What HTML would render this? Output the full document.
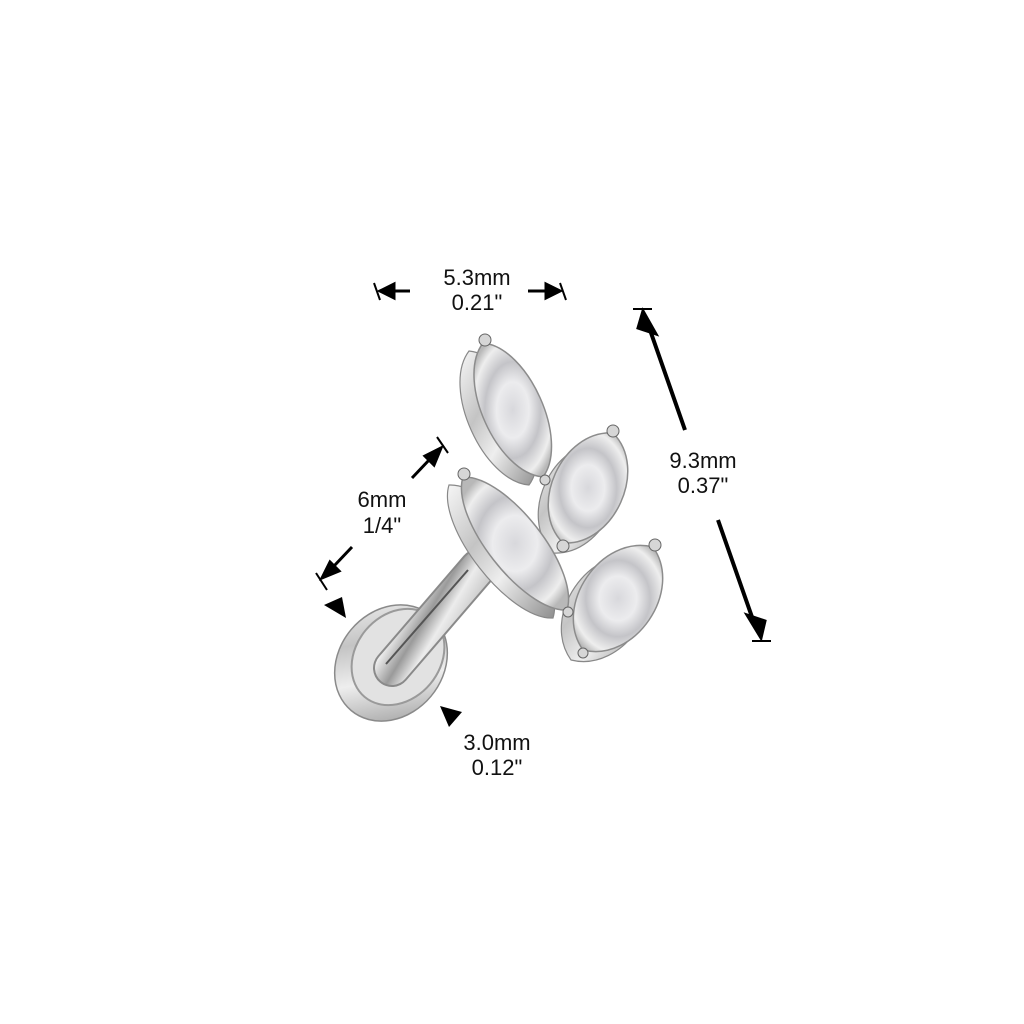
<!DOCTYPE html>
<html><head><meta charset="utf-8"><style>
html,body{margin:0;padding:0;background:#fff;}
svg{display:block}
text{font-family:"Liberation Sans",sans-serif;font-size:22px;fill:#111;text-anchor:middle}
</style></head><body>
<svg width="1024" height="1024" viewBox="0 0 1024 1024" xmlns="http://www.w3.org/2000/svg">
<defs>
<linearGradient id="metal" x1="0" y1="0" x2="1" y2="1">
<stop offset="0" stop-color="#f6f6f6"/><stop offset="0.35" stop-color="#c4c4c4"/><stop offset="0.6" stop-color="#eeeeee"/><stop offset="1" stop-color="#8e8e8e"/></linearGradient>
<linearGradient id="post" x1="0" y1="0" x2="1" y2="0.7">
<stop offset="0" stop-color="#b0b0b0"/><stop offset="0.3" stop-color="#f7f7f7"/><stop offset="0.5" stop-color="#9a9a9a"/><stop offset="0.65" stop-color="#ececec"/><stop offset="1" stop-color="#a8a8a8"/></linearGradient>
<radialGradient id="gem" cx="0.5" cy="0.5" r="0.6">
<stop offset="0" stop-color="#d8d8dc"/><stop offset="0.35" stop-color="#ececee"/><stop offset="0.6" stop-color="#c4c4c8"/><stop offset="0.85" stop-color="#eeeeee"/><stop offset="1" stop-color="#b8b8b8"/></radialGradient>
</defs>
<!-- disc -->
<ellipse cx="391" cy="663" rx="52" ry="62" transform="rotate(40 391 663)" fill="url(#metal)" stroke="#8a8a8a" stroke-width="1.5"/>
<ellipse cx="398" cy="657" rx="42" ry="52" transform="rotate(40 398 657)" fill="#e2e2e2" stroke="#9a9a9a" stroke-width="2"/>
<!-- post -->
<line x1="392" y1="668" x2="478" y2="568" stroke="#8a8a8a" stroke-width="38" stroke-linecap="round"/>
<line x1="392" y1="668" x2="478" y2="568" stroke="url(#post)" stroke-width="34" stroke-linecap="round"/>
<line x1="386" y1="664" x2="468" y2="570" stroke="#555" stroke-width="2"/>
<!-- backing plate -->
<g fill="url(#metal)" stroke="#888" stroke-width="1.2">
<path transform="translate(-14,8)" d="M483 343 C528 347 570 440 543 477 C497 473 455 380 483 343Z"/>
<path transform="translate(-14,8)" d="M463 477 C507 475 580 568 567 610 C523 612 450 519 463 477Z"/>
<path transform="translate(-12,10)" d="M653 547 C684 591 635 663 583 650 C552 606 601 534 653 547Z"/>
<path transform="translate(-10,10)" d="M613 433 C649 469 614 546 563 543 C527 507 562 430 613 433Z"/>
</g>
<!-- gems -->
<g fill="url(#gem)" stroke="#8c8c8c" stroke-width="1.5">
<path d="M483 343 C528 347 570 440 543 477 C497 473 455 380 483 343Z"/>
<path d="M613 433 C649 469 614 546 563 543 C527 507 562 430 613 433Z"/>
<path d="M463 477 C507 475 580 568 567 610 C523 612 450 519 463 477Z"/>
<path d="M653 547 C684 591 635 663 583 650 C552 606 601 534 653 547Z"/>
</g>
<g fill="#d6d6d6" stroke="#666">
<circle cx="485" cy="340" r="6"/><circle cx="613" cy="431" r="6"/>
<circle cx="563" cy="546" r="6"/><circle cx="655" cy="545" r="6"/>
<circle cx="464" cy="474" r="6"/><circle cx="545" cy="480" r="5"/>
<circle cx="568" cy="612" r="5"/><circle cx="583" cy="653" r="5"/>
</g>
<text x="477" y="285">5.3mm</text>
<text x="477" y="310">0.21"</text>
<g stroke="#000" stroke-width="3" fill="#000">
<line x1="390" y1="291" x2="410" y2="291"/>
<polygon points="380,291 394,284 394,298"/>
<line x1="374" y1="283" x2="380" y2="300" stroke-width="2"/>
<line x1="528" y1="291" x2="548" y2="291"/>
<polygon points="560,291 546,284 546,298"/>
<line x1="560" y1="283" x2="566" y2="300" stroke-width="2"/>
<line x1="633" y1="309" x2="652" y2="309" stroke-width="2"/>
<line x1="650" y1="330" x2="685" y2="430" stroke-width="4"/>
<polygon points="643,311 656,334 638,328"/>
<line x1="752" y1="641" x2="771" y2="641" stroke-width="2"/>
<line x1="718" y1="520" x2="752" y2="617" stroke-width="4"/>
<polygon points="761,638 747,615 765,621"/>
<line x1="412" y1="478" x2="430" y2="459" stroke-width="3"/>
<polygon points="441,448 425,456 434,465"/>
<line x1="437" y1="437" x2="448" y2="453" stroke-width="2"/>
<line x1="352" y1="547" x2="334" y2="566" stroke-width="3"/>
<polygon points="322,578 330,562 339,571"/>
<line x1="316" y1="573" x2="327" y2="590" stroke-width="2"/>
<polygon points="346,618 324,605 342,597" stroke="none"/>
<polygon points="440,706 462,712 449,727" stroke="none"/>
</g>
<text x="382" y="507">6mm</text>
<text x="382" y="533">1/4"</text>
<text x="703" y="468">9.3mm</text>
<text x="703" y="493">0.37"</text>
<text x="497" y="750">3.0mm</text>
<text x="497" y="775">0.12"</text>
</svg>
</body></html>
